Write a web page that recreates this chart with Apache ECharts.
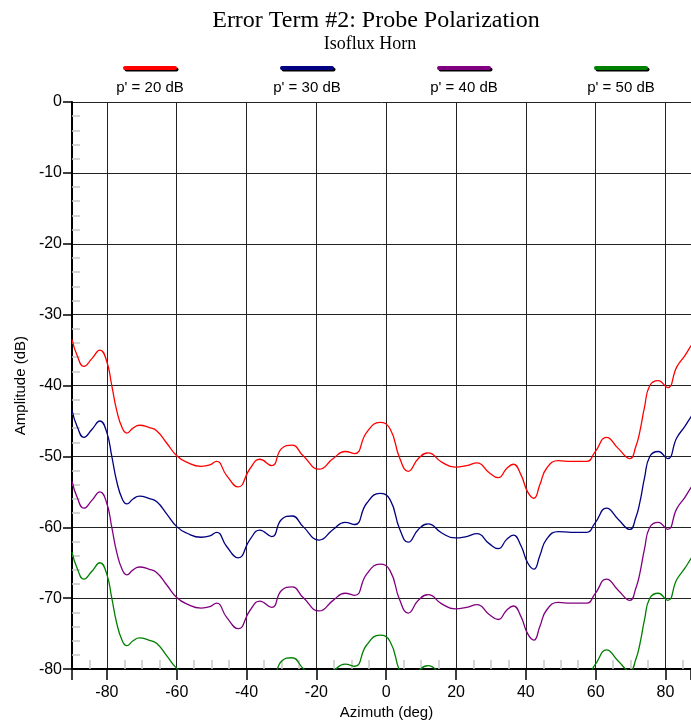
<!DOCTYPE html>
<html lang="en">
<head>
    <meta charset="UTF-8">
    <title>Error Term #2</title>
    <script src="https://cdn.jsdelivr.net/npm/echarts@6/dist/echarts.min.js"></script>
</head>
<body style="margin:0;background:#fff;">
<div id="chart" style="width: 691px;height: 725px;"></div>
<script type="text/javascript">
    // azimuth (deg) where the curves were read
    var azimuth = [-90, -88.5, -86.6, -84.3, -82, -80.1, -78.6, -77.2, -75.6, -74.3, -72.5, -70.7, -68, -65.7, -62.9, -60,
        -57.2, -53, -50.5, -48.6, -45.7, -42.4, -39, -36.2, -32.8, -30, -27, -23.8, -19.2, -15.2, -11.8, -9, -5.6, -1.8,
        1.1, 3.9, 6.3, 9.2, 12, 15.9, 19.7, 23, 26, 29.5, 32.1, 34.5, 36.4, 38.6, 40.5, 42.3, 44, 45.9, 49.3, 53, 57.4,
        59.8, 63.1, 66.5, 69.8, 71.5, 72.6, 74, 75.5, 77.9, 80.6, 83.2, 85.5, 87.3, 90];

    var amp20 = [-33.5, -35.8, -37.3, -36.2, -35.0, -36.5, -40.0, -43.5, -46.0, -46.7, -46.0, -45.6, -45.9, -46.4, -48.1, -49.9,
        -50.8, -51.4, -51.2, -50.7, -52.7, -54.3, -51.7, -50.4, -51.3, -48.9, -48.4, -49.9, -51.8, -50.3, -49.3, -49.6, -46.6, -45.2,
        -46.1, -50.3, -52.1, -50.3, -49.5, -50.8, -51.5, -51.3, -50.9, -52.3, -53.0, -51.7, -51.1, -52.6, -55.0, -55.9, -54.0, -51.7, -50.6, -50.7, -50.7,
        -49.4, -47.3, -48.9, -50.3, -48.6, -46.6, -43.0, -40.0, -39.3, -40.3, -37.4, -35.8, -34.4, -32.5];

    var amp30 = [-43.5, -45.8, -47.3, -46.2, -45.0, -46.5, -50.0, -53.5, -56.0, -56.7, -56.0, -55.6, -55.9, -56.4, -58.1, -59.9,
        -60.8, -61.4, -61.2, -60.7, -62.7, -64.3, -61.7, -60.4, -61.3, -58.9, -58.4, -59.9, -61.8, -60.3, -59.3, -59.6, -56.6, -55.2,
        -56.1, -60.3, -62.1, -60.3, -59.5, -60.8, -61.5, -61.3, -60.9, -62.3, -63.0, -61.7, -61.1, -62.6, -65.0, -65.9, -64.0, -61.7, -60.6, -60.7, -60.7,
        -59.4, -57.3, -58.9, -60.3, -58.6, -56.6, -53.0, -50.0, -49.3, -50.3, -47.4, -45.8, -44.4, -42.5];

    var amp40 = [-53.5, -55.8, -57.3, -56.2, -55.0, -56.5, -60.0, -63.5, -66.0, -66.7, -66.0, -65.6, -65.9, -66.4, -68.1, -69.9,
        -70.8, -71.4, -71.2, -70.7, -72.7, -74.3, -71.7, -70.4, -71.3, -68.9, -68.4, -69.9, -71.8, -70.3, -69.3, -69.6, -66.6, -65.2,
        -66.1, -70.3, -72.1, -70.3, -69.5, -70.8, -71.5, -71.3, -70.9, -72.3, -73.0, -71.7, -71.1, -72.6, -75.0, -75.9, -74.0, -71.7, -70.6, -70.7, -70.7,
        -69.4, -67.3, -68.9, -70.3, -68.6, -66.6, -63.0, -60.0, -59.3, -60.3, -57.4, -55.8, -54.4, -52.5];

    var amp50 = [-63.5, -65.8, -67.3, -66.2, -65.0, -66.5, -70.0, -73.5, -76.0, -76.7, -76.0, -75.6, -75.9, -76.4, -78.1, -79.9,
        -80.8, -81.4, -81.2, -80.7, -82.7, -84.3, -81.7, -80.4, -81.3, -78.9, -78.4, -79.9, -81.8, -80.3, -79.3, -79.6, -76.6, -75.2,
        -76.1, -80.3, -82.1, -80.3, -79.5, -80.8, -81.5, -81.3, -80.9, -82.3, -83.0, -81.7, -81.1, -82.6, -85.0, -85.9, -84.0, -81.7, -80.6, -80.7, -80.7,
        -79.4, -77.3, -78.9, -80.3, -78.6, -76.6, -73.0, -70.0, -69.3, -70.3, -67.4, -65.8, -64.4, -62.5];

    var seriesNames = ["p' = 20 dB", "p' = 30 dB", "p' = 40 dB", "p' = 50 dB"];
    var seriesColors = ['#ff0000', '#000080', '#800080', '#008000'];
    var seriesValues = [amp20, amp30, amp40, amp50];

    var legendCenters = [150, 307, 464, 621];

    var chart = echarts.init(document.getElementById('chart'));

    var series = [];
    var graphics = [];
    for (var s = 0; s < seriesValues.length; s++) {
        var pts = [];
        for (var i = 0; i < azimuth.length; i++) {
            pts.push([azimuth[i], seriesValues[s][i]]);
        }
        series.push({
            name: seriesNames[s],
            type: 'line',
            data: pts,
            smooth: 0.5,
            symbol: 'none',
            clip: true,
            lineStyle: {color: seriesColors[s], width: 1.3},
            itemStyle: {color: seriesColors[s]}
        });
        // legend swatch above its label
        graphics.push({
            type: 'rect',
            shape: {x: legendCenters[s] - 27, y: 66, width: 54, height: 4, r: 2},
            style: {fill: seriesColors[s], shadowColor: '#000', shadowOffsetX: 1.5, shadowOffsetY: 1.5, shadowBlur: 0}
        });
        graphics.push({
            type: 'text',
            x: legendCenters[s],
            y: 88,
            style: {
                text: seriesNames[s],
                fill: '#000',
                font: '15px "Liberation Sans"',
                align: 'center',
                verticalAlign: 'middle'
            }
        });
    }

    var option = {
        backgroundColor: '#fff',
        animation: false,
        title: [{
            text: 'Error Term #2: Probe Polarization',
            left: 371,
            top: 4,
            textAlign: 'center',
            textStyle: {fontFamily: 'Liberation Serif', fontSize: 24, fontWeight: 'normal', color: '#000'}
        }, {
            text: 'Isoflux Horn',
            left: 365,
            top: 30,
            textAlign: 'center',
            textStyle: {fontFamily: 'Liberation Serif', fontSize: 18, fontWeight: 'normal', color: '#000'}
        }],
        graphic: graphics,
        grid: {left: 72, top: 102, right: 0, bottom: 54, containLabel: false},
        xAxis: {
            type: 'value',
            min: -90,
            max: 87.3,   // the plot is cut at the right edge of the picture
            splitNumber: 9,
            name: 'Azimuth (deg)',
            nameLocation: 'middle',
            nameGap: 33,
            nameTextStyle: {fontFamily: 'Liberation Sans', fontSize: 15, color: '#000', padding: [0, 0, 0, 10]},
            axisLine: {show: true, onZero: false, lineStyle: {color: '#000', width: 2}},
            axisTick: {show: true, length: 11, lineStyle: {color: '#000', width: 1.5}},
            minorTick: {show: true, splitNumber: 4, length: -9, lineStyle: {color: '#c8c8c8', width: 1.5}},
            axisLabel: {
                margin: 15, fontFamily: 'Liberation Sans', fontSize: 16, color: '#000',
                showMinLabel: false, showMaxLabel: false
            },
            splitLine: {show: true, lineStyle: {color: '#222', width: 1}}
        },
        yAxis: {
            type: 'value',
            min: -80,
            max: 0,
            interval: 10,
            name: 'Amplitude (dB)',
            nameLocation: 'middle',
            nameGap: 42,
            nameTextStyle: {fontFamily: 'Liberation Sans', fontSize: 15, color: '#000'},
            axisLine: {show: true, onZero: false, lineStyle: {color: '#000', width: 2}},
            axisTick: {show: true, length: 9, lineStyle: {color: '#000', width: 1.5}},
            minorTick: {show: true, splitNumber: 5, length: -8, lineStyle: {color: '#c8c8c8', width: 1.5}},
            axisLabel: {margin: 10, fontFamily: 'Liberation Sans', fontSize: 16, color: '#000'},
            splitLine: {show: true, lineStyle: {color: '#222', width: 1}}
        },
        series: series
    };

    chart.setOption(option);
</script>
</body>
</html>
